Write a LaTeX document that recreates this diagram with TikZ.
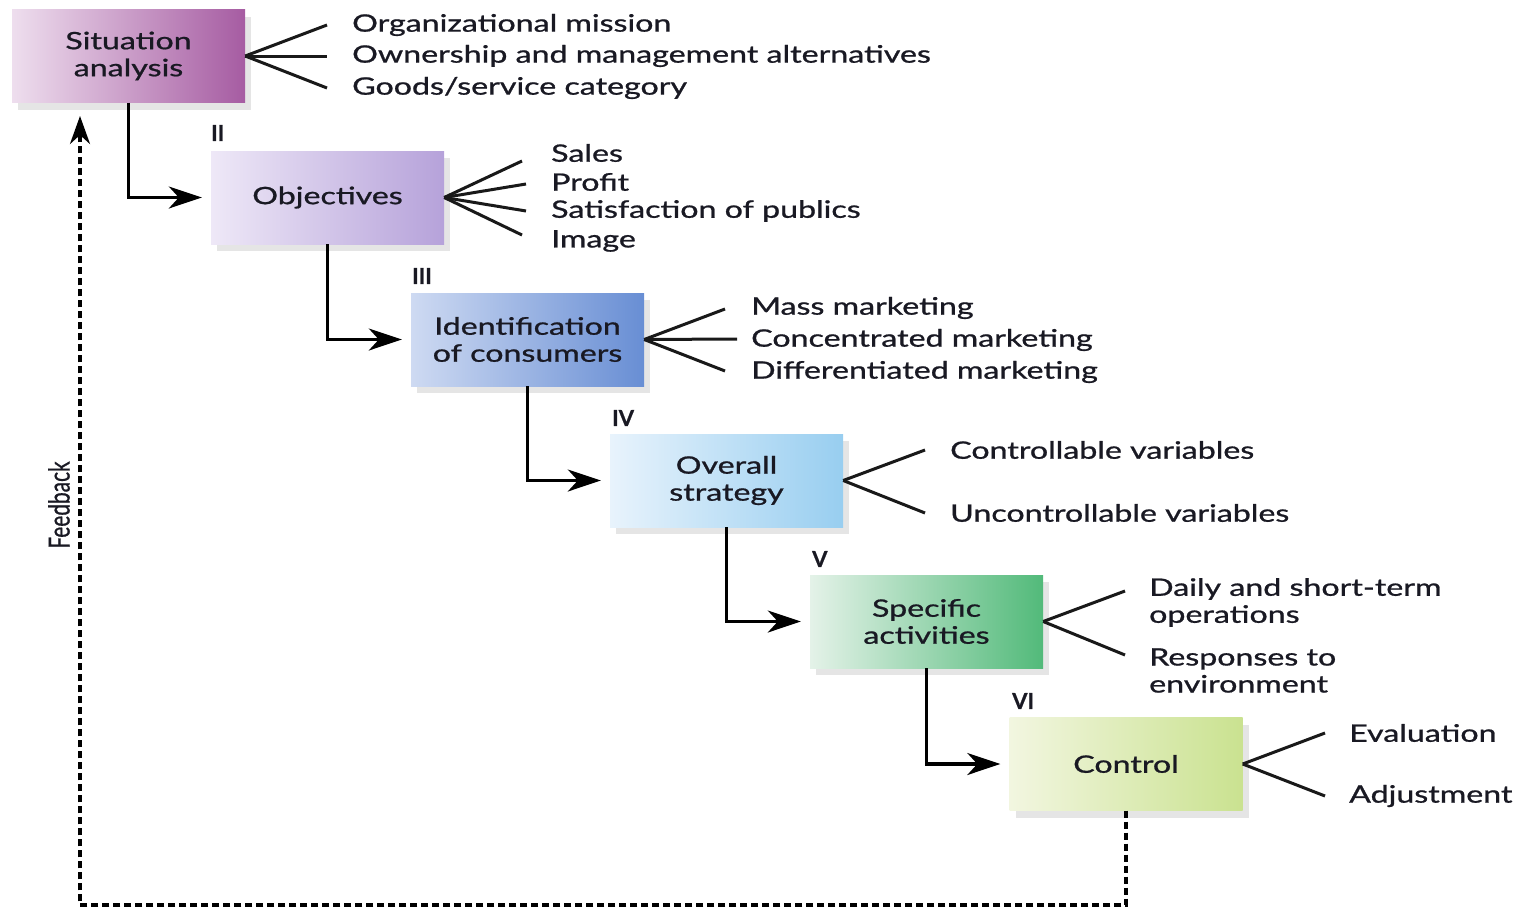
\documentclass[tikz,border=0pt]{standalone}
\usepackage{fontspec}
\setmainfont{Lato}[FakeBold=0.8]
\usetikzlibrary{arrows.meta,calc,shadows}

% gradient ends of the six stage boxes
\definecolor{saL}{RGB}{238,222,238}\definecolor{saR}{RGB}{166,92,162}
\definecolor{obL}{RGB}{238,232,247}\definecolor{obR}{RGB}{182,162,218}
\definecolor{icL}{RGB}{206,218,242}\definecolor{icR}{RGB}{104,142,212}
\definecolor{osL}{RGB}{232,243,252}\definecolor{osR}{RGB}{152,206,240}
\definecolor{spL}{RGB}{228,242,232}\definecolor{spR}{RGB}{82,186,122}
\definecolor{coL}{RGB}{242,246,224}\definecolor{coR}{RGB}{202,226,144}
\definecolor{ink}{RGB}{25,25,35}

\newcommand{\hs}[1]{\scalebox{1.34}[1]{#1}}

\tikzset{
  stage/.style={rectangle, minimum width=233pt, minimum height=93pt, inner sep=0pt,
    align=center, text=ink, font=\fontsize{24}{27}\selectfont,
    drop shadow={shadow xshift=6pt, shadow yshift=-7pt, fill=black!10, opacity=1}},
  item/.style={anchor=west, inner sep=0pt, align=left, text=ink,
    font=\fontsize{24}{27}\selectfont},
  numeral/.style={anchor=west, inner sep=0pt, text=ink, font=\fontsize{22}{22}\selectfont\bfseries},
  fan/.style={line width=3pt, black!90},
  flow/.style={line width=3.2pt, -{Stealth[length=33pt,width=22pt,inset=10pt]}, shorten >=9pt},
  feedback/.style={line width=3.5pt, dash pattern=on 7pt off 4pt, -{Stealth[length=28pt,width=20pt,inset=9pt]}}
}

\begin{document}
\begin{tikzpicture}[x=1pt,y=-1pt]
\useasboundingbox (0,0) rectangle (1523,908);

% stage boxes
\node[stage, left color=saL, right color=saR] (b1) at (128.5,56) {\hs{Situation}\\\hs{analysis}};
\node[stage, left color=obL, right color=obR] (b2) at (327.5,197.5) {\hs{Objectives}};
\node[stage, left color=icL, right color=icR] (b3) at (527.5,339.5) {\hs{Identification}\\\hs{of consumers}};
\node[stage, left color=osL, right color=osR] (b4) at (726.5,480.5) {\hs{Overall}\\\hs{strategy}};
\node[stage, left color=spL, right color=spR] (b5) at (926.5,621.5) {\hs{Specific}\\\hs{activities}};
\node[stage, left color=coL, right color=coR] (b6) at (1126,764) {\hs{Control}};

% stage numerals
\node[numeral] (n2) at (211,133) {II};
\node[numeral] (n3) at (412,276) {III};
\node[numeral] (n4) at (612,418) {IV};
\node[numeral] (n5) at (812,559) {V};
\node[numeral] (n6) at (1012,701) {VI};

% flow between stages
\draw[flow] (b1.south) |- (b2.west);
\draw[flow] (b2.south) |- (b3.west);
\draw[flow] (b3.south) |- (b4.west);
\draw[flow] (b4.south) |- (b5.west);
\draw[flow] (b5.south) |- (b6.west);

% items of each stage with their fans
\node[item] (i11) at (352,25) {\hs{Organizational mission}};
\node[item] (i12) at (352,56) {\hs{Ownership and management alternatives}};
\node[item] (i13) at (352,88) {\hs{Goods/service category}};
\coordinate (f11) at (327,25); \coordinate (f12) at (327,56); \coordinate (f13) at (327,88);
\foreach \f in {f11,f12,f13} \draw[fan] (b1.east) -- (\f);

\node[item] (i21) at (551,153) {\hs{Sales}};
\node[item] (i22) at (551,182) {\hs{Profit}};
\node[item] (i23) at (551,211) {\hs{Satisfaction of publics}};
\node[item] (i24) at (551,241) {\hs{Image}};
\coordinate (f21) at (522,161); \coordinate (f22) at (526,184);
\coordinate (f23) at (526,211); \coordinate (f24) at (522,235);
\foreach \f in {f21,f22,f23,f24} \draw[fan] (b2.east) -- (\f);

\node[item] (i31) at (751,308) {\hs{Mass marketing}};
\node[item] (i32) at (751,340) {\hs{Concentrated marketing}};
\node[item] (i33) at (751,372) {\hs{Differentiated marketing}};
\coordinate (f31) at (725,309); \coordinate (f32) at (737,339); \coordinate (f33) at (725,371);
\foreach \f in {f31,f32,f33} \draw[fan] (b3.east) -- (\f);

\node[item] (i41) at (950,450) {\hs{Controllable variables}};
\node[item] (i42) at (950,513) {\hs{Uncontrollable variables}};
\coordinate (f41) at (925,450); \coordinate (f42) at (925,513);
\foreach \f in {f41,f42} \draw[fan] (b4.east) -- (\f);

\node[item] (i51) at (1149,602.5) {\hs{Daily and short-term}\\\hs{operations}};
\node[item] (i52) at (1149,670.5) {\hs{Responses to}\\\hs{environment}};
\coordinate (f51) at (1125,591); \coordinate (f52) at (1125,655);
\foreach \f in {f51,f52} \draw[fan] (b5.east) -- (\f);

\node[item] (i61) at (1349,733) {\hs{Evaluation}};
\node[item] (i62) at (1349,796) {\hs{Adjustment}};
\coordinate (f61) at (1325,733); \coordinate (f62) at (1325,796);
\foreach \f in {f61,f62} \draw[fan] (b6.east) -- (\f);

% feedback loop
\coordinate (fbcorner) at (80,905);
\coordinate (fbtip) at (80,116);
\draw[feedback] (b6.south) |- (fbcorner) -- (fbtip);
\node[rotate=90, inner sep=0pt, text=ink, font=\fontsize{29}{29}\selectfont] (fbl) at (59,505) {\scalebox{0.72}[1]{Feedback}};
\end{tikzpicture}
\end{document}
